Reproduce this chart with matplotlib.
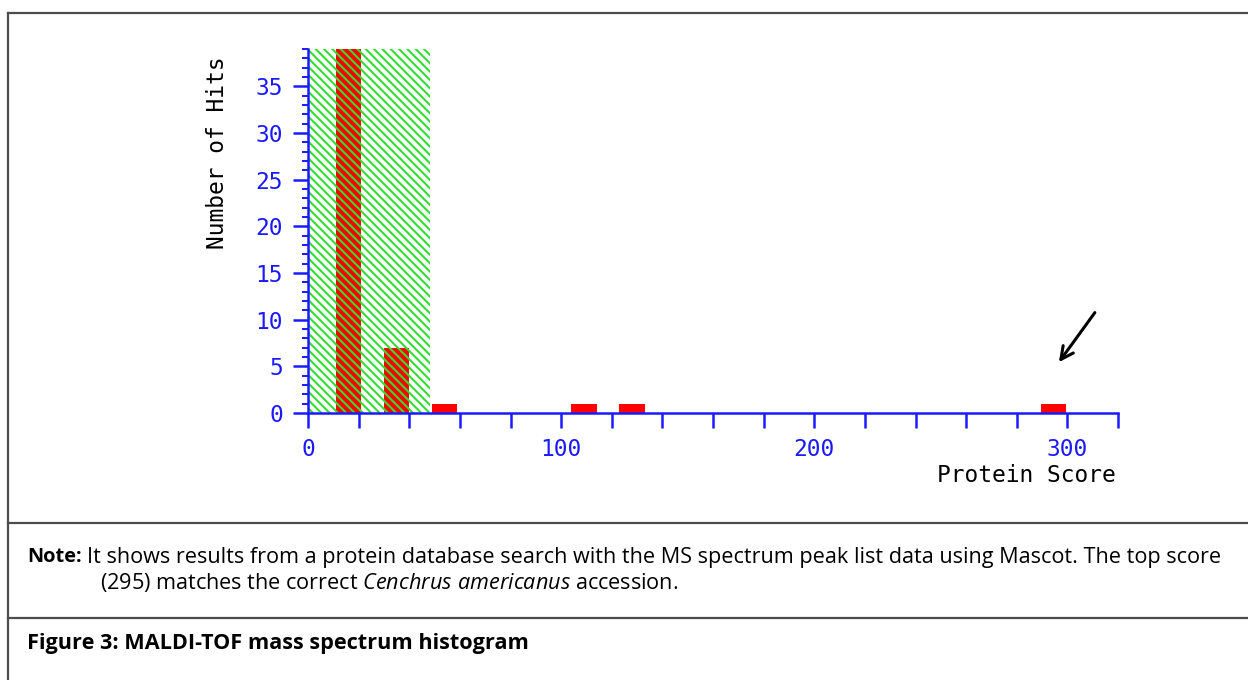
import matplotlib
matplotlib.use("Agg")
import matplotlib.pyplot as plt
from matplotlib.lines import Line2D
from matplotlib.ticker import MultipleLocator

# ---- data ----
bar_centers = [16, 35, 54, 109, 128, 294.5]
bar_heights = [39, 7, 1, 1, 1, 1]
bar_width = 10
threshold_range = (0, 48)
x_max = 320
y_max = 39
x_ticks = list(range(0, 321, 20))
x_labeled = {0: "0", 100: "100", 200: "200", 300: "300"}
x_tick_labels = [x_labeled.get(t, "") for t in x_ticks]
y_ticks = list(range(0, 36, 5))

W, H = 1248, 680
plt.rcParams["mathtext.fontset"] = "custom"
plt.rcParams["mathtext.rm"] = "Open Sans"
plt.rcParams["mathtext.it"] = "Open Sans:italic"
plt.rcParams["hatch.linewidth"] = 1.5

fig = plt.figure(figsize=(W / 100, H / 100), dpi=100)

def fx(px):
    return px / W

def fy(py):
    return 1 - py / H

BLUE = "#1a1aff"
mono = "DejaVu Sans Mono"
lfs = 16.5

ax = fig.add_axes([fx(308), fy(413), fx(1118) - fx(308), fy(49) - fy(413)])
ax.set_xlim(0, x_max)
ax.set_ylim(0, y_max)

ax.bar(bar_centers, bar_heights, width=bar_width, color="#ff0000", zorder=2)

ax.axvspan(threshold_range[0], threshold_range[1], facecolor="none",
           edgecolor="#33dd33", hatch="\\\\\\\\", linewidth=0, zorder=3)

for s in ["top", "right"]:
    ax.spines[s].set_visible(False)
for s in ["left", "bottom"]:
    ax.spines[s].set_color(BLUE)
    ax.spines[s].set_linewidth(1.8)
    ax.spines[s].set_zorder(4)

ax.set_xticks(x_ticks)
ax.set_xticklabels(x_tick_labels)
ax.set_yticks(y_ticks)
ax.yaxis.set_minor_locator(MultipleLocator(1))
ax.tick_params(axis="x", direction="out", length=11, width=1.8, color=BLUE,
               labelcolor=BLUE, labelsize=lfs, pad=7)
ax.tick_params(axis="y", which="major", direction="out", length=11, width=1.8,
               color=BLUE, labelcolor=BLUE, labelsize=lfs, pad=7)
ax.tick_params(axis="y", which="minor", direction="out", length=4.5, width=1.4,
               color=BLUE)
for lab in ax.get_xticklabels() + ax.get_yticklabels():
    lab.set_fontfamily(mono)

# arrow pointing to top score
ax.annotate("", xy=(296, 5.2), xytext=(311.5, 11.0),
            arrowprops=dict(arrowstyle="->,head_length=0.9,head_width=0.45",
                            color="black", lw=2.2),
            annotation_clip=False)

fig.text(fx(218), fy(153), "Number of Hits", rotation=90, ha="center",
         va="center", fontsize=lfs, family=mono, color="black")
fig.text(fx(1116), fy(476), "Protein Score", ha="right", va="center",
         fontsize=lfs, family=mono, color="black")

# frame lines
lc = "#4d4d4d"
for (x0, y0, x1, y1) in [(8, 13, 1248, 13), (8, 13, 8, 680),
                         (8, 523, 1248, 523), (8, 618, 1248, 618)]:
    fig.add_artist(Line2D([fx(x0), fx(x1)], [fy(y0), fy(y1)],
                          transform=fig.transFigure, color=lc, lw=1.6))

tf = "Open Sans"
fs = 15.6
fig.text(fx(27), fy(557), "Note:", ha="left", va="center", fontsize=14.4,
         family=tf, weight="bold")
fig.text(fx(87), fy(557),
         "It shows results from a protein database search with the MS spectrum peak list data using Mascot. The top score",
         ha="left", va="center", fontsize=fs, family=tf)
fig.text(fx(100), fy(582),
         r"(295) matches the correct $\it{Cenchrus\ americanus}$ accession.",
         ha="left", va="center", fontsize=fs, family=tf)
fig.text(fx(27), fy(643), "Figure 3: MALDI-TOF mass spectrum histogram",
         ha="left", va="center", fontsize=fs, family=tf, weight="bold")

fig.savefig("out.png", dpi=100, facecolor="white")
